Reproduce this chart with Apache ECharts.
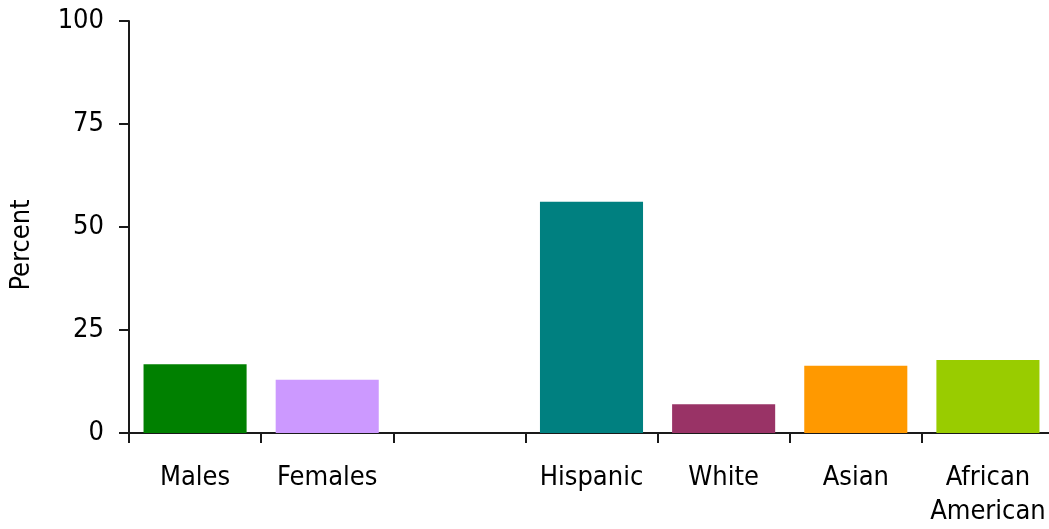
<!DOCTYPE html>
<html>
<head>
<meta charset="utf-8">
<script src="https://cdn.jsdelivr.net/npm/echarts@6/dist/echarts.min.js"></script>
<style>html,body{margin:0;padding:0;background:#fff;overflow:hidden}#c{width:1056px;height:529px}</style>
</head>
<body>
<div id="c"></div>
<script>
var categories = ['Males', 'Females', '', 'Hispanic', 'White', 'Asian', 'African\nAmerican'];
var values = [16.7, 12.9, null, 56.1, 7.0, 16.3, 17.7];
var colors = ['#008000', '#cc99ff', '#ffffff', '#008080', '#993366', '#ff9900', '#99cc00'];
var yTicks = [0, 25, 50, 75, 100];

var font = '"DejaVu Sans Condensed", "DejaVu Sans", sans-serif';
var chart = echarts.init(document.getElementById('c'), null, {renderer: 'canvas'});
chart.setOption({
  animation: false,
  grid: {left: 129, top: 21, right: 2, bottom: 96, containLabel: false},
  xAxis: {
    type: 'category',
    data: categories,
    boundaryGap: true,
    axisLine: {lineStyle: {color: '#1a1a1a', width: 2}},
    axisTick: {show: true, length: 10, lineStyle: {color: '#1a1a1a', width: 2}, alignWithLabel: false},
    axisLabel: {color: '#000', fontFamily: font, fontSize: 27, margin: 28, lineHeight: 34, interval: 0}
  },
  yAxis: {
    type: 'value',
    min: yTicks[0], max: yTicks[yTicks.length - 1], interval: 25,
    name: 'Percent',
    nameLocation: 'middle',
    nameGap: 94,
    nameTextStyle: {color: '#000', fontFamily: font, fontSize: 27, padding: [0, 0, 0, -36]},
    splitLine: {show: false},
    axisLine: {show: true, lineStyle: {color: '#1a1a1a', width: 2}},
    axisTick: {show: true, inside: false, length: 10, lineStyle: {color: '#1a1a1a', width: 2}},
    axisLabel: {color: '#000', fontFamily: font, fontSize: 27, margin: 25}
  },
  series: [{
    type: 'bar',
    data: values.map(function (v, i) { return {value: v, itemStyle: {color: colors[i]}}; }),
    barCategoryGap: '22%'
  }]
});
</script>
</body>
</html>
